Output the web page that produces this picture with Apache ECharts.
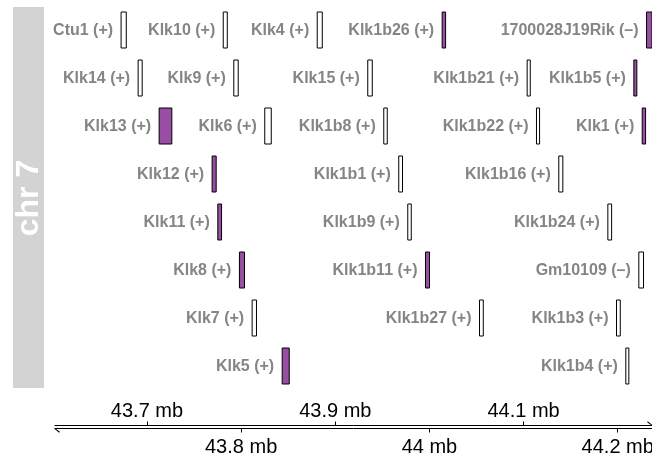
<!DOCTYPE html>
<html>
<head>
<meta charset="utf-8">
<script src="https://cdn.jsdelivr.net/npm/echarts@6/dist/echarts.min.js"></script>
<style>
html,body{margin:0;padding:0;background:#fff;}
#chart{width:652px;height:457px;}
</style>
</head>
<body>
<div id="chart"></div>
<script>
// ---- data (positions in mb on chr 7) ----
const geneNames  = ["Ctu1","Klk10","Klk4","Klk1b26","1700028J19Rik",
                    "Klk14","Klk9","Klk15","Klk1b21","Klk1b5",
                    "Klk13","Klk6","Klk1b8","Klk1b22","Klk1",
                    "Klk12","Klk1b1","Klk1b16",
                    "Klk11","Klk1b9","Klk1b24",
                    "Klk8","Klk1b11","Gm10109",
                    "Klk7","Klk1b27","Klk1b3",
                    "Klk5","Klk1b4"];
const geneStrand = ["+","+","+","+","\u2013",
                    "+","+","+","+","+",
                    "+","+","+","+","+",
                    "+","+","+",
                    "+","+","+",
                    "+","+","\u2013",
                    "+","+","+",
                    "+","+"];
const geneStart  = [43.6725,43.7810,43.8808,44.0135,44.2306,
                    43.6906,43.7922,43.9345,44.1038,44.2171,
                    43.7129,43.8251,43.9515,44.1137,44.2260,
                    43.7692,43.9674,44.1374,
                    43.7752,43.9770,44.1895,
                    43.7982,43.9958,44.2224,
                    43.8117,44.0532,44.1987,
                    43.8436,44.2086];
const geneEnd    = [43.6780,43.7853,43.8862,44.0172,44.2450,
                    43.6949,43.7969,43.9393,44.1071,44.2203,
                    43.7264,43.8320,43.9552,44.1170,44.2296,
                    43.7735,43.9714,44.1417,
                    43.7792,43.9807,44.1935,
                    43.8036,44.0001,44.2274,
                    43.8163,44.0572,44.2027,
                    43.8511,44.2118];
const geneRow    = [1,1,1,1,1,
                    2,2,2,2,2,
                    3,3,3,3,3,
                    4,4,4,
                    5,5,5,
                    6,6,6,
                    7,7,7,
                    8,8];
const geneFilled = [0,0,0,1,1,
                    0,0,0,0,1,
                    1,0,0,0,1,
                    1,0,0,
                    1,0,0,
                    1,1,0,
                    0,0,0,
                    1,0];
const upperTicks = [43.7, 43.9, 44.1];
const lowerTicks = [43.8, 44.0, 44.2];
const chromName = "chr 7";
const xMin = 43.6023, xMax = 44.2364;

const seriesData = geneNames.map((n, i) => [geneStart[i], geneEnd[i], geneRow[i], n + " (" + geneStrand[i] + ")", geneFilled[i]]);

function mbLabel(v) {
  const r = Math.round(v * 10) / 10;
  return (Number.isInteger(r) ? String(r) : r.toFixed(1)) + " mb";
}

const chart = echarts.init(document.getElementById('chart'), null, {renderer: 'canvas'});
const barb = 'path://M0,0 L0,0 M10,10 L10,10 M5,0 L0.8,5.2 L1.8,5.9 L5,1.4 Z';

chart.setOption({
  animation: false,
  backgroundColor: '#ffffff',
  grid: {left: 55, right: 0, top: 6, height: 384, containLabel: false, outerBoundsMode: 'none'},
  graphic: [
    {type: 'rect', shape: {x: 13, y: 7, width: 31, height: 381}, style: {fill: '#D3D3D3'}, z: -1},
    {type: 'text', x: 29, y: 198, rotation: Math.PI / 2,
     style: {text: chromName, fill: '#ffffff', font: 'bold 32px "Liberation Sans", Arial, sans-serif', align: 'center', verticalAlign: 'middle'}}
  ],
  xAxis: [
    {type: 'value', min: xMin, max: xMax, position: 'bottom', offset: 35.5,
     splitLine: {show: false},
     axisLine: {show: true, lineStyle: {color: '#000', width: 1}, symbol: ['none', barb], symbolSize: [10, 10], symbolOffset: [0, -4]},
     axisTick: {show: true, inside: true, length: 4, lineStyle: {color: '#000'}, customValues: upperTicks},
     axisLabel: {show: true, inside: true, margin: 4, color: '#000', fontSize: 20, fontFamily: '"Liberation Sans", Arial, sans-serif', customValues: upperTicks, formatter: mbLabel}},
    {type: 'value', min: xMin, max: xMax, position: 'bottom', offset: 38.5,
     splitLine: {show: false},
     axisLine: {show: true, lineStyle: {color: '#000', width: 1}, symbol: [barb, 'none'], symbolSize: [10, 10], symbolOffset: [4, 0]},
     axisTick: {show: true, inside: false, length: 4, lineStyle: {color: '#000'}, customValues: lowerTicks},
     axisLabel: {show: true, inside: false, margin: 9, color: '#000', fontSize: 20, fontFamily: '"Liberation Sans", Arial, sans-serif', customValues: lowerTicks, formatter: mbLabel}}
  ],
  yAxis: {type: 'value', min: 0.5, max: 8.5, inverse: true, show: false, splitLine: {show: false}},
  series: [{
    type: 'custom',
    xAxisIndex: 0,
    data: seriesData,
    renderItem: function (params, api) {
      const s = api.value(0), e = api.value(1), row = api.value(2);
      const p0 = api.coord([s, row]);
      const p1 = api.coord([e, row]);
      const h = api.size([0, 1])[1] * 0.75;
      const cs = params.coordSys;
      const shape = echarts.graphic.clipRectByRect(
        {x: p0[0], y: p0[1] - h / 2, width: p1[0] - p0[0], height: h},
        {x: cs.x, y: cs.y, width: cs.width, height: cs.height});
      const filled = api.value(4) === 1;
      return {
        type: 'group',
        children: [
          {type: 'rect', shape: shape, style: {fill: filled ? '#984EA3' : '#ffffff', stroke: '#000', lineWidth: 1}},
          {type: 'text', x: p0[0] - 8, y: p0[1] + 0.5,
           style: {text: seriesData[params.dataIndex][3], fill: '#858585', font: 'bold 16px "Liberation Sans", Arial, sans-serif', align: 'right', verticalAlign: 'middle'}}
        ]
      };
    }
  }]
});
</script>
</body>
</html>
